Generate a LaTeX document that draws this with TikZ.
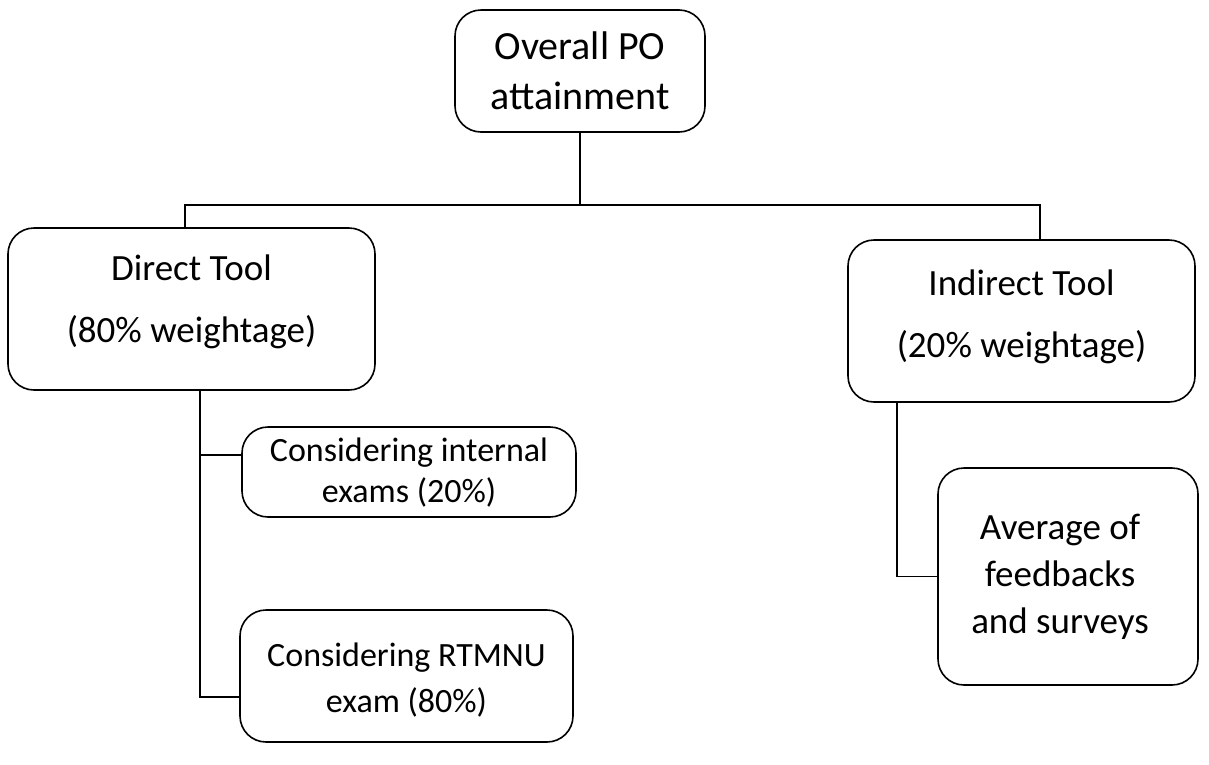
\documentclass[tikz,border=0pt]{standalone}
\usepackage{fontspec}
\setmainfont{Carlito}
\begin{document}
\begin{tikzpicture}[x=1pt,y=-1pt,
  box/.style={draw, line width=1.6pt, rounded corners=26pt, inner sep=0pt},
  txt/.style={align=center, inner sep=0pt},
  conn/.style={line width=1.6pt}]
\useasboundingbox (0,0) rectangle (1209,764);
% boxes
\node[box, minimum width=250pt, minimum height=122pt] (top) at (580,71) {};
\node[box, minimum width=367pt, minimum height=162pt] (direct) at (191.5,309) {};
\node[box, minimum width=347pt, minimum height=162pt] (indirect) at (1021.5,321) {};
\node[box, minimum width=334pt, minimum height=90pt] (internal) at (409,472) {};
\node[box, minimum width=333pt, minimum height=132pt] (rtmnu) at (406.5,676) {};
\node[box, minimum width=260pt, minimum height=217pt] (avg) at (1068,576.5) {};
% texts
\node[txt, font=\fontsize{40}{50}\selectfont] (toptxt) at (top.center) {Overall PO\\attainment};
\node[txt, font=\fontsize{37}{45}\selectfont] (directtxt) at ([yshift=7pt]direct.center) {Direct Tool\\[17pt](80\% weightage)};
\node[txt, font=\fontsize{37}{45}\selectfont] (indirecttxt) at ([yshift=4pt]indirect.center) {Indirect Tool\\[17pt](20\% weightage)};
\node[txt, font=\fontsize{34}{41}\selectfont] (internaltxt) at ([yshift=-1pt]internal.center) {Considering internal\\exams (20\%)};
\node[txt, font=\fontsize{34}{46}\selectfont] (rtmnutxt) at ([yshift=-4pt]rtmnu.center) {Considering RTMNU\\exam (80\%)};
\node[txt, font=\fontsize{37}{47}\selectfont] (avgtxt) at ([xshift=-8pt]avg.center) {Average of\\feedbacks\\and surveys};
% connectors
\coordinate (bus) at (580,205);
\coordinate (dtop) at (185,228);
\coordinate (itop) at (1040,240);
\coordinate (dbot) at (200,390);
\coordinate (ibot) at (897,402);
\coordinate (ibranch) at (200,455);
\coordinate (rbranch) at (200,697);
\draw[conn] (top.south) -- (bus);
\draw[conn] (dtop) -- (dtop |- bus) -- (itop |- bus) -- (itop);
\draw[conn] (dbot) -- (rbranch) -- (rbranch -| rtmnu.west);
\draw[conn] (ibranch) -- (ibranch -| internal.west);
\draw[conn] (ibot) |- (avg.west);
\end{tikzpicture}
\end{document}
